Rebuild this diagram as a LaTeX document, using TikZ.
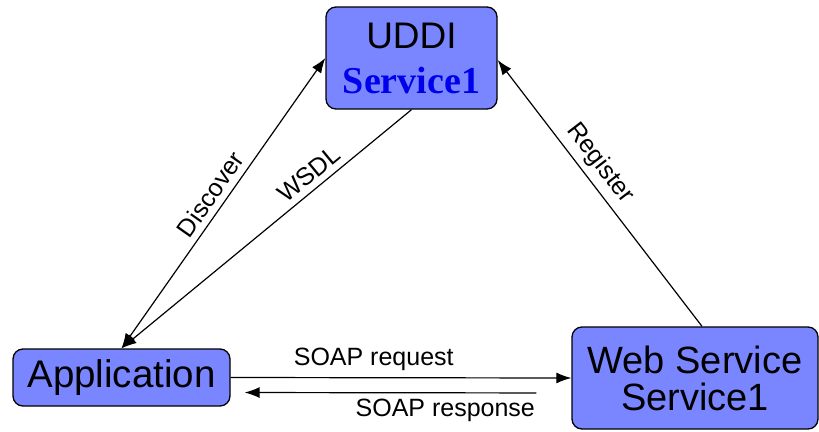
\documentclass[tikz,border=0pt]{standalone}
\usepackage{fontspec}
\setmainfont{Liberation Sans}
\newfontfamily\svcfont{Liberation Serif}
\usetikzlibrary{arrows.meta}
\definecolor{boxblue}{RGB}{122,134,255}
\definecolor{svcblue}{RGB}{0,0,235}
\begin{document}
\begin{tikzpicture}[x=1pt,y=-1pt,line width=1.2pt,
  box/.style={draw=black,line width=1.3pt,fill=boxblue,rounded corners=10pt,align=center,inner sep=0pt},
  lbl/.style={font=\fontsize{25}{25}\selectfont,inner sep=6pt},
  >={Latex[length=15pt,width=11pt]}]
\useasboundingbox (0,0) rectangle (819,431);
\node[box,minimum width=171pt,minimum height=102pt,font=\fontsize{37}{45}\selectfont] (uddi) at (411.5,58)
  {UDDI\\{\svcfont\bfseries\color{svcblue}\fontsize{38}{45}\selectfont Service1}};
\node[box,minimum width=217pt,minimum height=57pt,font=\fontsize{38.5}{38}\selectfont] (app) at (121.5,377.5) {Application};
\node[box,minimum width=246pt,minimum height=102pt,font=\fontsize{38}{37}\selectfont] (web) at (695,378) {Web Service\\Service1};
\draw[<->] (app.north) -- (uddi.west) node[lbl,sloped,midway,above]{Discover};
\draw[->] (uddi.south) -- (app.north) node[lbl,sloped,pos=0.32,above]{WSDL};
\draw[->] ([xshift=7pt]web.north) -- ([yshift=-2pt]uddi.east) node[lbl,sloped,pos=0.57,above]{Register};
\draw[->] (app.east) -- (web.west) node[lbl,pos=0.42,above]{SOAP request};
\draw[->,shorten <=35pt,shorten >=14pt] ([yshift=-15pt]web.west) -- ([yshift=-15pt]app.east)
  node[lbl,pos=0.37,below]{SOAP response};
\end{tikzpicture}
\end{document}
